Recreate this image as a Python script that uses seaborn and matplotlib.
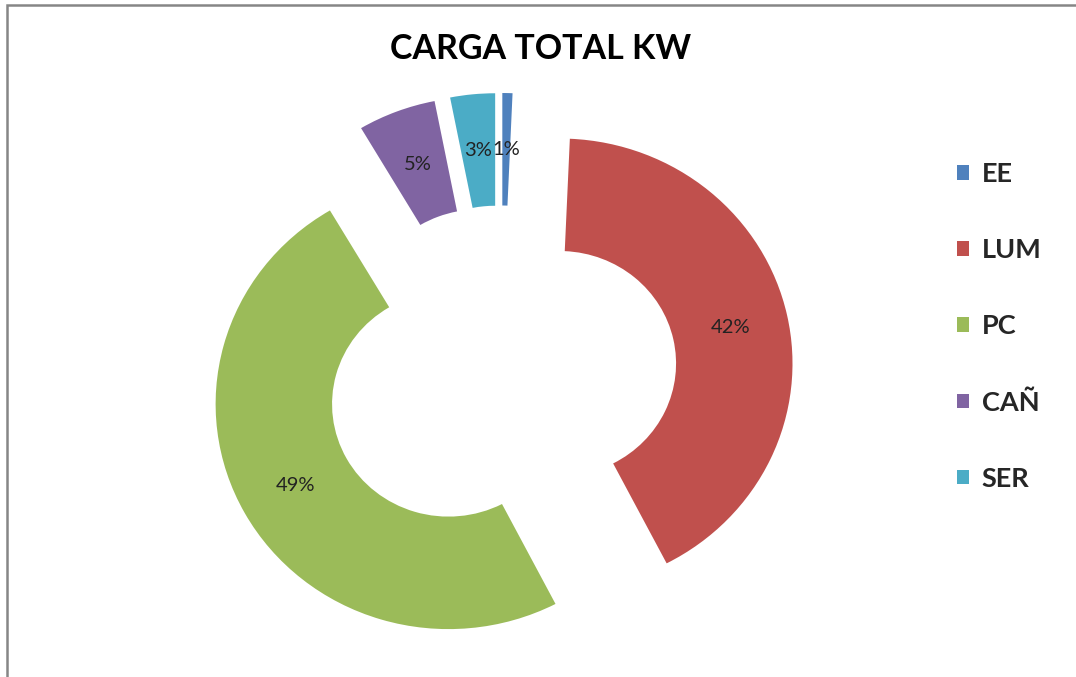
import matplotlib
matplotlib.use("Agg")
import matplotlib.pyplot as plt
from matplotlib.patches import Rectangle
import seaborn as sns

categories = ["EE", "LUM", "PC", "CAÑ", "SER"]
shares = [0.7, 41.7, 49.1, 5.4, 3.1]
colors = ["#4F81BD", "#C0504D", "#9BBB59", "#8064A2", "#4BACC6"]
title = "CARGA TOTAL KW"

sns.set_theme(style="white")
plt.rcParams["font.family"] = ["Lato", "DejaVu Sans"]
palette = sns.color_palette(colors)

W, H = 1076, 677
fig = plt.figure(figsize=(W / 100, H / 100), dpi=100)
ax = fig.add_axes([0, 0, 1, 1])

sx = 1.035  # slight horizontal stretch of the reference
cx, cy, R = 501 / sx, H - 376, 225
wedges, _, autotexts = ax.pie(
    shares, colors=palette, startangle=90, counterclock=False,
    radius=R, center=(cx, cy), explode=[58] * len(shares),
    wedgeprops=dict(width=R * 0.5, linewidth=0),
    autopct=lambda p: f"{p:.0f}%", pctdistance=0.75,
    textprops=dict(fontsize=14.5, color="#222222"),
)
ax.set_xlim(0, W / sx)
ax.set_ylim(0, H)
ax.set_aspect("auto")
ax.axis("off")

fig.text(541 / W, 1 - 49 / H, title, ha="center", va="center",
         fontsize=24.5, fontweight="bold", color="black")

leg = fig.legend(wedges, categories, loc="upper left",
                 bbox_to_anchor=(957 / W, 1 - 162 / H), frameon=False,
                 prop=dict(size=19.5, weight="bold"), handlelength=0.46,
                 handleheight=0.46, handletextpad=0.45, labelspacing=1.92,
                 borderaxespad=0, borderpad=0)

fig.add_artist(Rectangle((7 / W, -0.1), 1.2, (H - 5) / H + 0.1,
                         transform=fig.transFigure, fill=False,
                         ec="#868686", lw=1.8))

fig.savefig("out.png", dpi=100)
